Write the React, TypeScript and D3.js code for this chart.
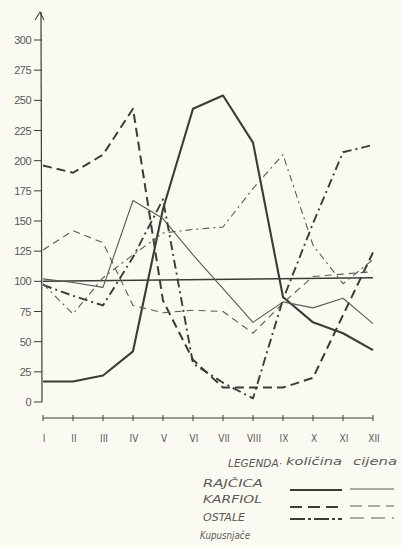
import React from "react";
import * as d3 from "d3";

const months = ["I", "II", "III", "IV", "V", "VI", "VII", "VIII", "IX", "X", "XI", "XII"];
const yTicks = [0, 25, 50, 75, 100, 125, 150, 175, 200, 225, 250, 275, 300];

const rajcicaKolicina = [17, 17, 22, 42, 160, 243, 254, 215, 87, 66, 57, 43];
const rajcicaCijena = [102, 99, 95, 167, 152, 122, 94, 66, 83, 78, 86, 65];
const karfiolKolicina = [196, 190, 205, 243, 84, 35, 12, 12, 12, 20, 72, 124];
const karfiolCijena = [126, 142, 132, 80, 74, 76, 75, 57, 82, 104, 106, 108];
const ostaleKolicina = [97, 88, 80, 120, 168, 32, 16, 3, 85, 148, 207, 213];
const ostaleCijena = [98, 73, 103, 122, 140, 143, 145, 177, 205, 130, 98, 118];
const baseMonths = ["I", "XII"];
const baseValues = [100, 103];

const legendRows = ["RAJČICA", "KARFIOL", "OSTALE"];

const INK = "#3c3b38";
const INK_LIGHT = "#5a5955";
const BG = "#fbfaf2";

export default function App() {
  const x = d3.scalePoint<string>().domain(months).range([43, 373]);
  const y = d3.scaleLinear().domain([0, 300]).range([402, 40]);

  const line = d3
    .line<number>()
    .x((_, i) => x(months[i]) as number)
    .y((d) => y(d));

  const baseLine = d3
    .line<number>()
    .x((_, i) => x(baseMonths[i]) as number)
    .y((d) => y(d));

  const series = [
    { data: rajcicaKolicina, w: 2.1, dash: "", color: INK },
    { data: rajcicaCijena, w: 1.1, dash: "", color: INK_LIGHT },
    { data: karfiolKolicina, w: 2, dash: "9,5", color: INK },
    { data: karfiolCijena, w: 1.1, dash: "7,5", color: INK_LIGHT },
    { data: ostaleKolicina, w: 1.9, dash: "9,4,2,4", color: INK },
    { data: ostaleCijena, w: 1.1, dash: "7,4,2,4", color: INK_LIGHT },
  ];

  const legendLayout = [
    { text: 487, len: 60, line: 490, thick: { w: 2.2, dash: "" }, thin: { w: 1.1, dash: "" } },
    { text: 503, len: 59, line: 507, thick: { w: 2, dash: "12,6" }, thin: { w: 1.1, dash: "12,6" } },
    { text: 521, len: 42, line: 519, thick: { w: 2, dash: "15,3,3,3" }, thin: { w: 1.1, dash: "14,7" } },
  ];

  const hand = "'DejaVu Sans', 'Noto Sans', sans-serif";

  return (
    <svg
      width={401}
      height={547}
      style={{ position: "fixed", left: 0, top: 0, background: BG }}
    >
      <rect x={0} y={0} width={401} height={547} fill={BG} />
      {/* y axis */}
      <line x1={42} y1={402} x2={41} y2={12} stroke={INK} strokeWidth={1.2} />
      <path d="M35,20 L40,12 L44,20" fill="none" stroke={INK} strokeWidth={1.1} />
      {yTicks.map((t) => (
        <g key={t}>
          <line x1={34} x2={42} y1={y(t)} y2={y(t)} stroke={INK} strokeWidth={1} />
          <text
            x={31}
            y={y(t) + 4}
            textAnchor="end"
            fontSize={11}
            fill={INK_LIGHT}
            fontFamily="'Liberation Sans', 'DejaVu Sans', sans-serif"
            letterSpacing={-0.5}
          >
            {t}
          </text>
        </g>
      ))}
      {/* x axis */}
      <line x1={43} x2={373} y1={418} y2={418} stroke={INK} strokeWidth={1.2} />
      {months.map((m) => (
        <g key={m}>
          <line x1={x(m)} x2={x(m)} y1={415} y2={421} stroke={INK} strokeWidth={1} />
          <text
            x={(x(m) as number) + 1}
            y={442}
            textAnchor="middle"
            fontSize={10}
            fill={INK_LIGHT}
            fontFamily="'Liberation Sans Narrow', 'DejaVu Sans Condensed', sans-serif"
          >
            {m}
          </text>
        </g>
      ))}
      {/* base line 100 */}
      <path d={baseLine(baseValues) || ""} fill="none" stroke={INK} strokeWidth={1.5} />
      {series.map((s, i) => (
        <path
          key={i}
          d={line(s.data) || ""}
          fill="none"
          stroke={s.color}
          strokeWidth={s.w}
          strokeDasharray={s.dash}
          strokeLinejoin="round"
        />
      ))}
      {/* legend */}
      <g fontFamily={hand} fontStyle="italic" fill={INK_LIGHT}>
        <text x={228} y={467} fontSize={11} textLength={54} lengthAdjust="spacingAndGlyphs">
          LEGENDA·
        </text>
        <text x={286} y={465} fontSize={11} textLength={56} lengthAdjust="spacingAndGlyphs">
          količina
        </text>
        <text x={353} y={465} fontSize={10.5} textLength={44} lengthAdjust="spacingAndGlyphs">
          cijena
        </text>
        {legendRows.map((r, i) => (
          <text
            key={r}
            x={203}
            y={legendLayout[i].text}
            fontSize={11}
            textLength={legendLayout[i].len}
            lengthAdjust="spacingAndGlyphs"
          >
            {r}
          </text>
        ))}
        <text x={200} y={539} fontSize={10.5} textLength={50} lengthAdjust="spacingAndGlyphs">
          Kupusnjače
        </text>
      </g>
      {legendLayout.map((row, i) => (
        <g key={i}>
          <line
            x1={290}
            x2={342}
            y1={row.line}
            y2={row.line}
            stroke={INK}
            strokeWidth={row.thick.w}
            strokeDasharray={row.thick.dash}
          />
          <line
            x1={350}
            x2={394}
            y1={row.line - 1}
            y2={row.line - 1}
            stroke={INK_LIGHT}
            strokeWidth={row.thin.w}
            strokeDasharray={row.thin.dash}
          />
        </g>
      ))}
    </svg>
  );
}
